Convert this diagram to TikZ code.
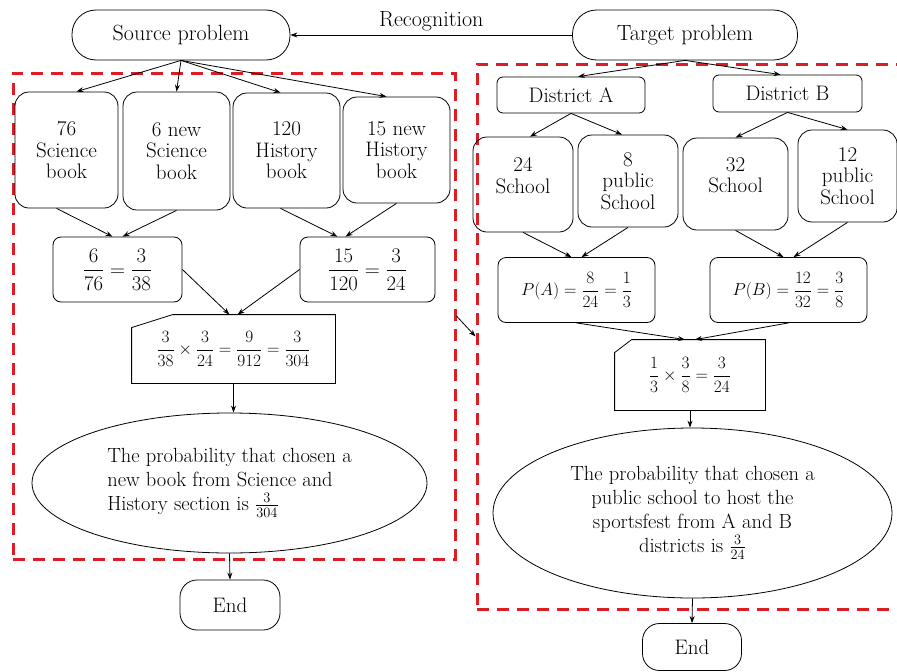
\documentclass[tikz,border=0pt]{standalone}
\usepackage{amsmath}
\usepackage{fontspec}
\usepackage{tikz}
\usetikzlibrary{positioning}
\usetikzlibrary{arrows.meta}
\usetikzlibrary{shapes.geometric}

\definecolor{dashred}{RGB}{222,28,38}
\newcommand{\flowfont}{\fontsize{21}{21.5}\selectfont}
\newcommand{\headfont}{\fontsize{22}{24}\selectfont}
\newcommand{\mathfont}{\fontsize{18.5}{20}\selectfont}

\begin{document}
\begin{tikzpicture}[x=1pt, y=-1pt, line width=0.8pt, >={Stealth[black,length=7pt,width=5pt]}]
    \clip (0,0) rectangle (897,672);
    %Frames
    \begin{scope}[every node/.style={draw=dashred, line width=3pt, dash pattern=on 12pt off 8pt, inner sep=0pt}]
        \node(lbox)[minimum width=442pt, minimum height=486pt] at (234,316) {};
        \node(rbox)[minimum width=433pt, minimum height=545pt] at (693.5,336.5) {};
    \end{scope}
    %Start and end
    \begin{scope}[every node/.style={draw, rounded corners=24pt, font=\headfont, minimum height=50pt}]
        \node(src)[minimum width=218pt] at (181,35) {Source problem};
        \node(tgt)[minimum width=225pt] at (685,35) {Target problem};
        \node(endl)[minimum width=100pt, rounded corners=17pt, font=\flowfont] at (230,605) {End};
        \node(endr)[minimum width=99pt, minimum height=47pt, rounded corners=17pt, font=\flowfont] at (692,647) {End};
    \end{scope}
    %Data boxes
    \begin{scope}[every node/.style={draw, rounded corners=14pt, align=center, font=\flowfont}]
        \node(sci)[minimum width=103pt, minimum height=116pt] at (66.5,150) {76\\Science\\book};
        \node(newsci)[minimum width=107pt, minimum height=118pt] at (176.5,151) {6 new\\Science\\book};
        \node(his)[minimum width=107pt, minimum height=115pt] at (286.5,150.5) {120\\History\\book};
        \node(newhis)[minimum width=107pt, minimum height=106pt] at (396.5,150) {15 new\\History\\book};
        \node(sa)[minimum width=100pt, minimum height=95pt] at (523,184.5) {24\\School\\[-10pt]\strut};
        \node(pa)[minimum width=100pt, minimum height=92pt] at (628,181) {8\\public\\School};
        \node(sb)[minimum width=105pt, minimum height=92pt] at (735.5,184) {32\\School\\[-10pt]\strut};
        \node(pb)[minimum width=99pt, minimum height=92pt] at (847.5,176) {12\\public\\School};
    \end{scope}
    %Fractions and districts
    \begin{scope}[every node/.style={draw, rounded corners=8pt, font=\flowfont, minimum height=65pt}]
        \node(fsci)[minimum width=129pt] at (117.5,269.5) {$\dfrac{6}{76}=\dfrac{3}{38}$};
        \node(fhis)[minimum width=135pt] at (367.5,269.5) {$\dfrac{15}{120}=\dfrac{3}{24}$};
        \node(proba)[minimum width=157pt, font=\mathfont] at (576.5,290) {$P(A)=\dfrac{8}{24}=\dfrac{1}{3}$};
        \node(probb)[minimum width=157pt, font=\mathfont] at (788.5,290) {$P(B)=\dfrac{12}{32}=\dfrac{3}{8}$};
        \node(da)[minimum width=148pt, minimum height=36pt, rounded corners=6pt] at (571,95) {District A};
        \node(db)[minimum width=149pt, minimum height=37pt, rounded corners=6pt] at (787.5,93.5) {District B};
    \end{scope}
    %Products
    \begin{scope}[every node/.style={font=\mathfont}]
        \node(prodl)[minimum width=203pt, minimum height=68pt] at (233.5,349) {$\dfrac{3}{38}\times\dfrac{3}{24}=\dfrac{9}{912}=\dfrac{3}{304}$};
        \node(prodr)[minimum width=150pt, minimum height=70pt] at (690,375) {$\dfrac{1}{3}\times\dfrac{3}{8}=\dfrac{3}{24}$};
    \end{scope}
    \draw ([yshift=-13pt]prodl.north west) -- ([xshift=41pt]prodl.north west) -- (prodl.north east) -- (prodl.south east) -- (prodl.south west) -- cycle;
    \draw ([yshift=-13pt]prodr.north west) -- ([xshift=17pt]prodr.north west) -- (prodr.north east) -- (prodr.south east) -- (prodr.south west) -- cycle;
    %Conclusions
    \begin{scope}[every node/.style={draw, ellipse, inner sep=0pt, font=\fontsize{20.5}{24}\selectfont}]
        \node(concl)[minimum width=395pt, minimum height=140pt, align=left] at (229.5,483) {The probability that chosen a\\new book from Science and\\History section is $\frac{3}{304}$};
        \node(concr)[minimum width=399pt, minimum height=170pt, align=center] at (692.5,513) {The probability that chosen a\\public school to host the\\sportsfest from A and B\\districts is $\frac{3}{24}$};
    \end{scope}
    %Lines
    \begin{scope}[every node/.style={font=\headfont}]
        \draw[->] (tgt.west) -- node[above=0pt] {Recognition} (src.east);
        \draw[->] (src.south) -- ([xshift=10pt]sci.north);
        \draw[->] (src.south) -- (newsci.north);
        \draw[->] (src.south) -- ([xshift=-6pt]his.north);
        \draw[->] (src.south) -- ([xshift=-10pt]newhis.north);
        \draw[->] ([xshift=-10pt]sci.south) -- ([xshift=-5pt]fsci.north);
        \draw[->] (newsci.south) -- ([xshift=5pt]fsci.north);
        \draw[->] ([xshift=-6pt]his.south) -- ([xshift=-30pt]fhis.north);
        \draw[->] (newhis.south) -- ([xshift=-22pt]fhis.north);
        \draw[->] (fsci.east) -- ([xshift=-4pt]prodl.north);
        \draw[->] (fhis.west) -- ([xshift=4pt]prodl.north);
        \draw[->] (prodl.south) -- (prodl.south |- concl.north);
        \draw[->] (concl.south) -- (endl.north);
        \draw[->] (lbox.east) -- (rbox.west);
        \draw[->] (tgt.south) -- ([xshift=7pt]da.north);
        \draw[->] (tgt.south) -- ([xshift=-7pt]db.north);
        \draw[->] (da.south) -- ([xshift=7pt]sa.north);
        \draw[->] (da.south) -- ([xshift=-6pt]pa.north);
        \draw[->] (db.south) -- (sb.north);
        \draw[->] (db.south) -- (pb.north);
        \draw[->] (sa.south) -- ([xshift=-5pt]proba.north);
        \draw[->] (pa.south) -- ([xshift=5pt]proba.north);
        \draw[->] (sb.south) -- ([xshift=-5pt]probb.north);
        \draw[->] (pb.south) -- ([xshift=5pt]probb.north);
        \draw[->] (proba.south) -- ([xshift=-5pt]prodr.north);
        \draw[->] (probb.south) -- ([xshift=5pt]prodr.north);
        \draw[->] (prodr.south) -- (prodr.south |- concr.north);
        \draw[->] (concr.south) -- (endr.north);
    \end{scope}
\end{tikzpicture}
\end{document}
